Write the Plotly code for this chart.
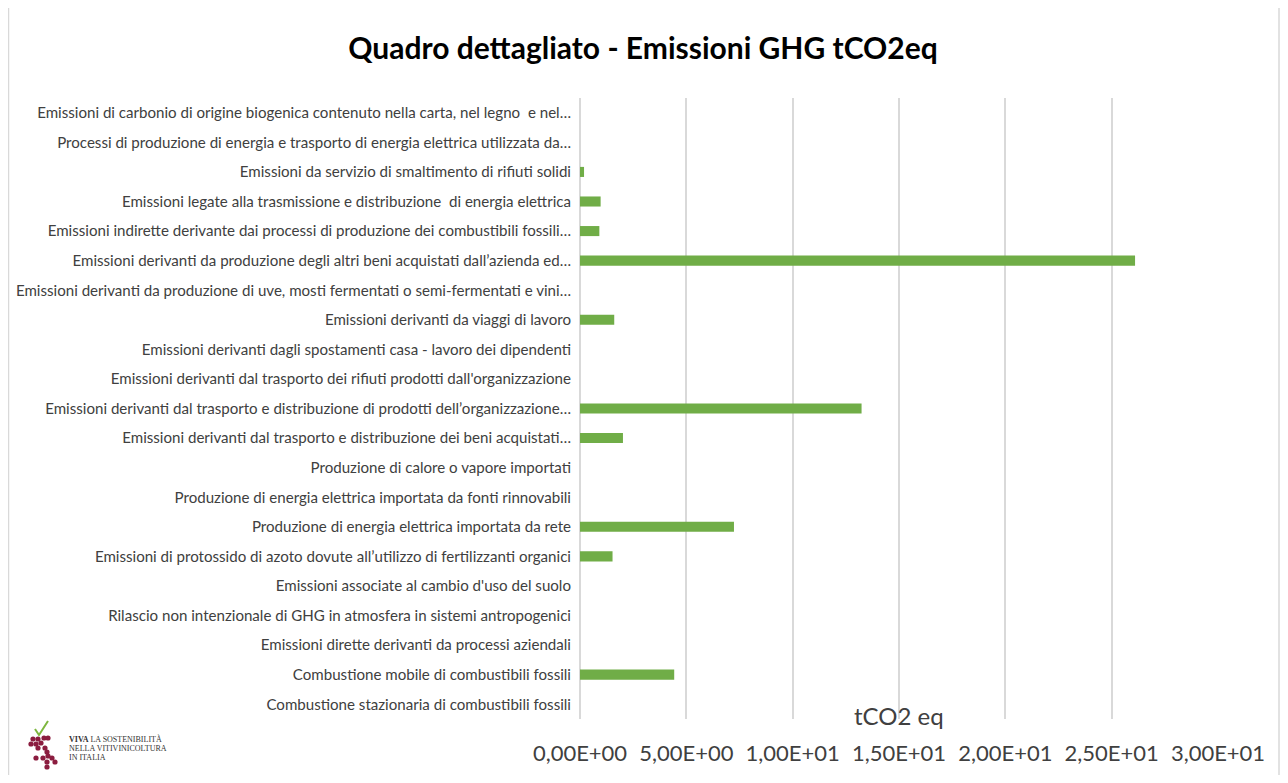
import plotly.graph_objects as go

categories = [
    "Combustione stazionaria di combustibili fossili",
    "Combustione mobile di combustibili fossili",
    "Emissioni dirette derivanti da processi aziendali",
    "Rilascio non intenzionale di GHG in atmosfera in sistemi antropogenici",
    "Emissioni associate al cambio d'uso del suolo",
    "Emissioni di protossido di azoto dovute all’utilizzo di fertilizzanti organici",
    "Produzione di energia elettrica importata da rete",
    "Produzione di energia elettrica importata da fonti rinnovabili",
    "Produzione di calore o vapore importati",
    "Emissioni derivanti dal trasporto e distribuzione dei beni acquistati…",
    "Emissioni derivanti dal trasporto e distribuzione di prodotti dell’organizzazione…",
    "Emissioni derivanti dal trasporto dei rifiuti prodotti dall'organizzazione",
    "Emissioni derivanti dagli spostamenti casa - lavoro dei dipendenti",
    "Emissioni derivanti da viaggi di lavoro",
    "Emissioni derivanti da produzione di uve, mosti fermentati o semi-fermentati e vini…",
    "Emissioni derivanti da produzione degli altri beni acquistati dall’azienda ed…",
    "Emissioni indirette derivante dai processi di produzione dei combustibili fossili…",
    "Emissioni legate alla trasmissione e distribuzione  di energia elettrica",
    "Emissioni da servizio di smaltimento di rifiuti solidi",
    "Processi di produzione di energia e trasporto di energia elettrica utilizzata da…",
    "Emissioni di carbonio di origine biogenica contenuto nella carta, nel legno  e nel…",
]
values = [0, 4.43, 0, 0, 0, 1.53, 7.24, 0, 0, 2.02, 13.24, 0, 0, 1.61, 0, 26.1,
          0.91, 0.97, 0.19, 0, 0]

tick_vals = [0, 5, 10, 15, 20, 25, 30]
tick_text = ["0,00E+00", "5,00E+00", "1,00E+01", "1,50E+01", "2,00E+01", "2,50E+01", "3,00E+01"]

# page body has an 8px margin; work in screen pixels and convert
OFF = 8
W, H = 1288 - 2 * OFF, 783 - 2 * OFF
PLOT_L, PLOT_R, PLOT_T, PLOT_B = 580, 1218, 98, 719  # screen px
L = PLOT_L - OFF
R = W - (PLOT_R - OFF)
T = PLOT_T - OFF
B = H - (PLOT_B - OFF)
PW, PH = W - L - R, H - T - B


def px(x):
    return (x - OFF - L) / PW


def py(y):
    return (H - B - (y - OFF)) / PH


fig = go.Figure(go.Bar(
    x=values, y=categories, orientation="h",
    marker=dict(color="#70AD47", line=dict(width=0)),
    hoverinfo="x+y",
))

shapes = [
    dict(type="rect", xref="paper", yref="paper",
         x0=px(8.5), x1=px(1279), y0=py(7), y1=py(800),
         line=dict(color="#D9D9D9", width=1.5), fillcolor="rgba(0,0,0,0)", layer="below"),
]

# logo: grape dots and check mark
grapes = [(33, 739), (38, 739), (44, 738), (48, 738), (31, 744), (36, 744), (41, 743),
          (38, 748), (45, 748), (47, 752), (36, 758), (43, 758), (48, 756), (52, 758),
          (47, 762), (55, 762), (47, 767)]
for gx, gy in grapes:
    r = 2.6
    shapes.append(dict(type="circle", xref="paper", yref="paper",
                       x0=px(gx - r), x1=px(gx + r), y0=py(gy + r), y1=py(gy - r),
                       fillcolor="#8B1C3F", line=dict(width=0)))
shapes.append(dict(type="path", xref="paper", yref="paper",
                   path=f"M {px(35)} {py(729)} L {px(39)} {py(735)} L {px(48)} {py(721)}",
                   line=dict(color="#7DB63E", width=2)))

logo_font = dict(family="Liberation Serif", size=8, color="#333333")
annotations = [
    dict(text="tCO2 eq", xref="paper", yref="paper", x=px(899), y=py(715),
         xanchor="center", yanchor="middle", showarrow=False,
         font=dict(family="Lato", size=24, color="#404040")),
    dict(text="<b>VIVA</b> LA SOSTENIBILITÀ", xref="paper", yref="paper",
         x=px(67), y=py(739), xanchor="left", yanchor="middle", showarrow=False,
         font=logo_font),
    dict(text="NELLA VITIVINICOLTURA", xref="paper", yref="paper",
         x=px(67), y=py(748), xanchor="left", yanchor="middle", showarrow=False,
         font=logo_font),
    dict(text="IN ITALIA", xref="paper", yref="paper",
         x=px(67), y=py(757), xanchor="left", yanchor="middle", showarrow=False,
         font=logo_font),
]

fig.update_layout(
    width=W, height=H,
    margin=dict(l=L, r=R, t=T, b=B, autoexpand=False),
    paper_bgcolor="white", plot_bgcolor="white",
    title=dict(text="<b>Quadro dettagliato - Emissioni GHG tCO2eq</b>",
               x=px(643), xanchor="center", xref="paper",
               y=1 - (48 - OFF) / H, yanchor="middle",
               font=dict(family="Lato", size=30, color="#000000")),
    showlegend=False,
    bargap=0.66,
    font=dict(family="Lato", color="#404040"),
    xaxis=dict(range=[0, 30], tickvals=tick_vals, ticktext=tick_text,
               showgrid=True, gridcolor="#D9D9D9", gridwidth=1.5,
               zeroline=True, zerolinecolor="#D9D9D9", zerolinewidth=1.5,
               showline=False, ticks="",
               ticklabelstandoff=19,
               tickfont=dict(family="Lato", size=22, color="#404040")),
    yaxis=dict(showgrid=False, zeroline=False, showline=False, ticks="",
               ticklabelstandoff=8, automargin=False,
               tickfont=dict(family="Lato", size=15.1, color="#404040")),
    shapes=shapes,
    annotations=annotations,
)

fig.write_html("out.html")
